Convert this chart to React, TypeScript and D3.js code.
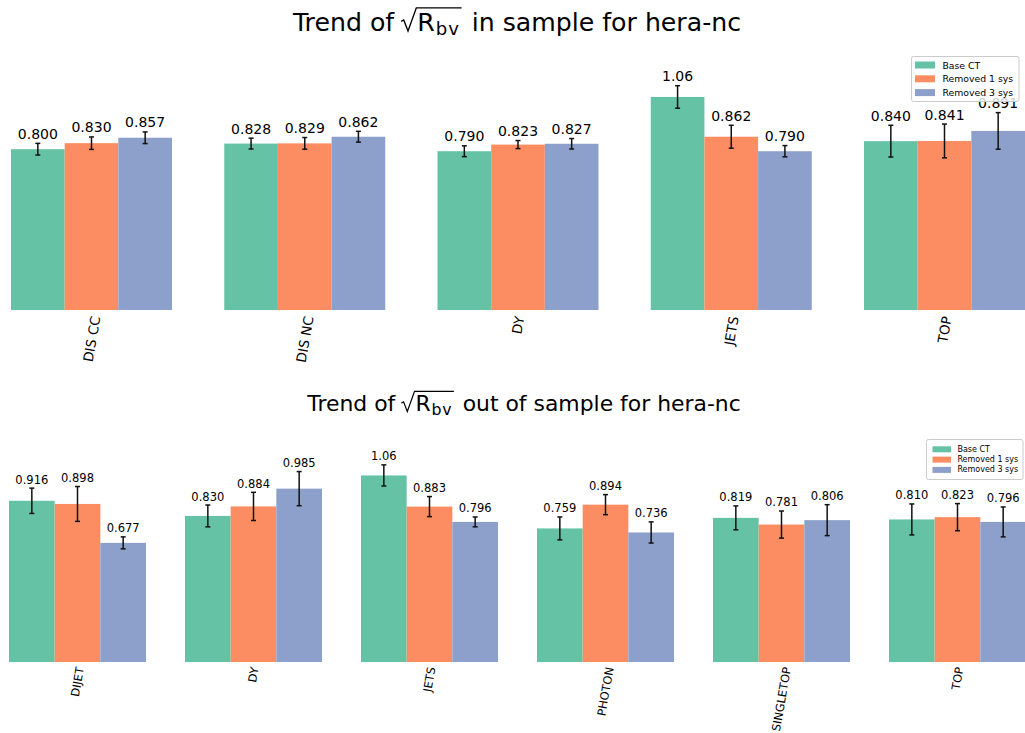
import React, { useEffect, useRef } from 'react';
import * as d3 from 'd3';

const SERIES = ['Base CT', 'Removed 1 sys', 'Removed 3 sys'];
const COLORS = ['#66c2a5', '#fc8d62', '#8da0cb'];

const inCats = ['DIS CC', 'DIS NC', 'DY', 'JETS', 'TOP'];
const inBase = [0.8, 0.828, 0.79, 1.06, 0.84];
const inRem1 = [0.83, 0.829, 0.823, 0.862, 0.841];
const inRem3 = [0.857, 0.862, 0.827, 0.79, 0.891];
const inErrBase = [0.029, 0.027, 0.027, 0.056, 0.079];
const inErrRem1 = [0.031, 0.029, 0.02, 0.057, 0.084];
const inErrRem3 = [0.029, 0.027, 0.026, 0.028, 0.091];

const outCats = ['DIJET', 'DY', 'JETS', 'PHOTON', 'SINGLETOP', 'TOP'];
const outBase = [0.916, 0.83, 1.06, 0.759, 0.819, 0.81];
const outRem1 = [0.898, 0.884, 0.883, 0.894, 0.781, 0.823];
const outRem3 = [0.677, 0.985, 0.796, 0.736, 0.806, 0.796];
const outErrBase = [0.072, 0.062, 0.06, 0.065, 0.068, 0.088];
const outErrRem1 = [0.099, 0.08, 0.057, 0.057, 0.077, 0.077];
const outErrRem3 = [0.034, 0.097, 0.028, 0.06, 0.088, 0.085];

const FONT = 'DejaVu Sans, sans-serif';

type Panel = {
  cats: string[];
  vals: number[][];
  errs: number[][];
  firstX: number;
  lastX: number;
  groupW: number;
  baseY: number;
  pxPerUnit: number;
  valueFont: number;
  tickFont: number;
  tickTop: number;
  title: { cx: number; baseline: number; fs: number; rest: string };
  legend: { x: number; y: number; w: number; h: number; fs: number; rowY0: number; rowDy: number; swW: number; swH: number; pad: number };
};

const panels: Panel[] = [
  {
    cats: inCats,
    vals: [inBase, inRem1, inRem3],
    errs: [inErrBase, inErrRem1, inErrRem3],
    firstX: 11,
    lastX: 864,
    groupW: 161,
    baseY: 310,
    pxPerUnit: 201,
    valueFont: 14,
    tickFont: 13.5,
    tickTop: 315,
    title: { cx: 517, baseline: 30.5, fs: 25.2, rest: 'in sample for hera-nc' },
    legend: { x: 911.5, y: 56.5, w: 107.5, h: 45, fs: 9.3, rowY0: 65, rowDy: 13.8, swW: 20, swH: 7, pad: 3.5 },
  },
  {
    cats: outCats,
    vals: [outBase, outRem1, outRem3],
    errs: [outErrBase, outErrRem1, outErrRem3],
    firstX: 9,
    lastX: 889,
    groupW: 137,
    baseY: 662,
    pxPerUnit: 176,
    valueFont: 11.5,
    tickFont: 11.5,
    tickTop: 666,
    title: { cx: 524, baseline: 411, fs: 21.9, rest: 'out of sample for hera-nc' },
    legend: { x: 926.5, y: 439.5, w: 96.5, h: 40, fs: 8, rowY0: 449.3, rowDy: 10.3, swW: 18.5, swH: 6, pad: 6 },
  },
];

function drawTitle(svg: d3.Selection<SVGSVGElement, unknown, null, undefined>, t: Panel['title']) {
  const g = svg.append('g');
  const fs = t.fs;
  const mk = (s: string, size: number) =>
    g
      .append('text')
      .attr('font-family', FONT)
      .attr('font-size', size)
      .attr('fill', '#000')
      .text(s);
  const t1 = mk('Trend of', fs);
  const tR = mk('R', fs);
  const tbv = mk('bv', fs * 0.72).attr('letter-spacing', fs * 0.04);
  const tRest = mk(t.rest, fs);
  const w1 = (t1.node() as SVGTextElement).getComputedTextLength();
  const wR = (tR.node() as SVGTextElement).getComputedTextLength();
  const wbv = (tbv.node() as SVGTextElement).getComputedTextLength();
  const wRest = (tRest.node() as SVGTextElement).getComputedTextLength();
  const radStart = w1 + 0.28 * fs;
  const radW = 0.64 * fs;
  const rStart = radStart + radW;
  const bvStart = rStart + wR + 0.04 * fs;
  const olEnd = bvStart + wbv + 0.06 * fs;
  const restStart = olEnd + 0.4 * fs;
  const total = restStart + wRest;
  const x0 = t.cx - total / 2;
  const by = t.baseline;
  t1.attr('x', x0).attr('y', by);
  tR.attr('x', x0 + rStart).attr('y', by);
  tbv.attr('x', x0 + bvStart).attr('y', by + fs * 0.16);
  tRest.attr('x', x0 + restStart).attr('y', by);
  const top = by - 0.9 * fs;
  const rx = x0 + radStart;
  const path = d3.path();
  path.moveTo(rx, by - 0.36 * fs);
  path.lineTo(rx + 0.1 * fs, by - 0.42 * fs);
  path.lineTo(rx + 0.27 * fs, by + 0.02 * fs);
  path.lineTo(rx + radW - 0.04 * fs, top);
  path.lineTo(x0 + olEnd, top);
  g.append('path')
    .attr('d', path.toString())
    .attr('fill', 'none')
    .attr('stroke', '#000')
    .attr('stroke-width', fs * 0.055)
    .attr('stroke-linejoin', 'miter');
}

export default function App() {
  const ref = useRef<SVGSVGElement>(null);
  useEffect(() => {
    const svg = d3.select(ref.current as SVGSVGElement);
    svg.selectAll('*').remove();
    svg.append('rect').attr('width', 1025).attr('height', 733).attr('fill', '#fff');

    panels.forEach((p) => {
      drawTitle(svg, p.title);
      const gx = d3
        .scaleLinear()
        .domain([0, p.cats.length - 1])
        .range([p.firstX, p.lastX]);
      const inner = d3
        .scaleBand<number>()
        .domain(d3.range(SERIES.length))
        .range([0, p.groupW])
        .padding(0);
      const y = d3
        .scaleLinear()
        .domain([0, 1])
        .range([p.baseY, p.baseY - p.pxPerUnit]);
      const fmt = d3.format('.3r');

      const g = svg.append('g');
      p.cats.forEach((cat, ci) => {
        const x0 = gx(ci);
        SERIES.forEach((_, si) => {
          const v = p.vals[si][ci];
          const bx = x0 + (inner(si) as number);
          const bw = inner.bandwidth();
          g.append('rect')
            .attr('x', bx)
            .attr('y', y(v))
            .attr('width', bw)
            .attr('height', y(0) - y(v))
            .attr('fill', COLORS[si]);
        });
        SERIES.forEach((_, si) => {
          const v = p.vals[si][ci];
          const e = p.errs[si][ci];
          const cx = x0 + (inner(si) as number) + inner.bandwidth() / 2;
          g.append('line')
            .attr('x1', cx).attr('x2', cx)
            .attr('y1', y(v - e)).attr('y2', y(v + e))
            .attr('stroke', '#111').attr('stroke-width', 1.5);
          [v - e, v + e].forEach((yy) => {
            g.append('line')
              .attr('x1', cx - 2.5).attr('x2', cx + 2.5)
              .attr('y1', y(yy)).attr('y2', y(yy))
              .attr('stroke', '#111').attr('stroke-width', 1.5);
          });
          g.append('text')
            .attr('x', cx)
            .attr('y', y(v + e) - 4.5)
            .attr('text-anchor', 'middle')
            .attr('font-family', FONT)
            .attr('font-size', p.valueFont)
            .attr('fill', '#000')
            .text(fmt(v));
        });
        // tick label rotated 80 deg
        const cxg = x0 + p.groupW / 2;
        const t = g
          .append('text')
          .attr('font-family', FONT)
          .attr('font-size', p.tickFont)
          .attr('text-anchor', 'end')
          .attr('dominant-baseline', 'central')
          .attr('fill', '#000')
          .text(cat);
        const L = (t.node() as SVGTextElement).getComputedTextLength();
        const a = (80 * Math.PI) / 180;
        const h = p.tickFont * 1.16;
        const tx = cxg + (Math.cos(a) * L) / 2;
        const ty = p.tickTop + (Math.cos(a) * h) / 2;
        t.attr('transform', `translate(${tx},${ty}) rotate(-80)`);
      });

      // legend
      const lg = svg.append('g');
      const L = p.legend;
      lg.append('rect')
        .attr('x', L.x).attr('y', L.y).attr('width', L.w).attr('height', L.h)
        .attr('rx', 2).attr('fill', '#fff').attr('fill-opacity', 0.8)
        .attr('stroke', '#cccccc').attr('stroke-width', 1);
      SERIES.forEach((s, si) => {
        const cy = L.rowY0 + si * L.rowDy;
        lg.append('rect')
          .attr('x', L.x + L.pad).attr('y', cy - L.swH / 2)
          .attr('width', L.swW).attr('height', L.swH)
          .attr('fill', COLORS[si]);
        lg.append('text')
          .attr('x', L.x + L.pad + L.swW + L.fs * 0.8)
          .attr('y', cy)
          .attr('dominant-baseline', 'central')
          .attr('font-family', FONT)
          .attr('font-size', L.fs)
          .attr('fill', '#000')
          .text(s);
      });
    });
  }, []);
  return (
    <svg
      ref={ref}
      width={1025}
      height={733}
      style={{ position: 'absolute', left: 0, top: 0, display: 'block' }}
    />
  );
}
